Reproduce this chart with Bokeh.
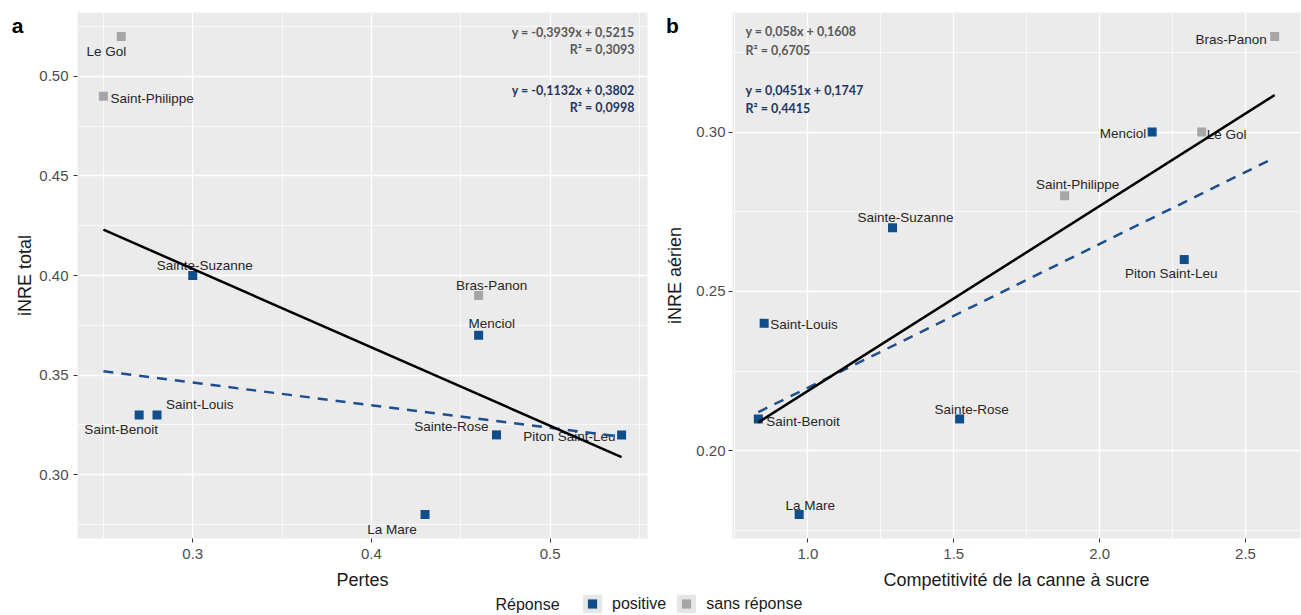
import numpy as np
from bokeh.plotting import figure
from bokeh.models import (ColumnDataSource, Range1d, FixedTicker, NumeralTickFormatter,
                          Label, Legend, LegendItem)
from bokeh.layouts import column, row
from bokeh.embed import file_html
from bokeh.resources import INLINE
from bokeh.core.properties import value, field

# ---------------- data ----------------
sites = ["Le Gol", "Saint-Philippe", "Sainte-Suzanne", "Bras-Panon", "Menciol",
         "Saint-Benoit", "Saint-Louis", "Sainte-Rose", "Piton Saint-Leu", "La Mare"]
reponse = ["sans réponse", "sans réponse", "positive", "sans réponse", "positive",
           "positive", "positive", "positive", "positive", "positive"]
pertes = [0.26, 0.25, 0.30, 0.46, 0.46, 0.27, 0.28, 0.47, 0.54, 0.43]
inre_total = [0.52, 0.49, 0.40, 0.39, 0.37, 0.33, 0.33, 0.32, 0.32, 0.28]
competitivite = [2.35, 1.88, 1.29, 2.60, 2.18, 0.83, 0.85, 1.52, 2.29, 0.97]
inre_aerien = [0.30, 0.28, 0.27, 0.33, 0.30, 0.21, 0.24, 0.21, 0.26, 0.18]

reponse_levels = ["positive", "sans réponse"]
legend_title = "Réponse"

# printed regression results: [slope, intercept] (all sites / positive only)
coef_a_all = [-0.3939, 0.5215]
coef_a_pos = [-0.1132, 0.3802]
coef_b_all = [0.058, 0.1608]
coef_b_pos = [0.0451, 0.1747]
eq_a_all = ["y = -0,3939x + 0,5215", "R² = 0,3093"]
eq_a_pos = ["y = -0,1132x + 0,3802", "R² = 0,0998"]
eq_b_all = ["y = 0,058x + 0,1608", "R² = 0,6705"]
eq_b_pos = ["y = 0,0451x + 0,1747", "R² = 0,4415"]

xticks_a = [0.3, 0.4, 0.5]
yticks_a = [0.30, 0.35, 0.40, 0.45, 0.50]
xticks_b = [1.0, 1.5, 2.0, 2.5]
yticks_b = [0.20, 0.25, 0.30]

x_title_a, y_title_a = "Pertes", "iNRE total"
x_title_b, y_title_b = "Competitivité de la canne à sucre", "iNRE aérien"

# ---------------- styles ----------------
COLORS = {"positive": "#104E8B", "sans réponse": "#A6A6A6"}
EQ_COLORS = ["#595959", "#1F3864"]
DASH_COLOR = "#1F4E8C"
FONT = "Liberation Sans"
EQ_FONT = "Lato"

# label placement per site: (align, dx px, dy px downward)
LAB_A = {"Le Gol": ("center", -15, 15), "Saint-Philippe": ("left", 7, 2),
         "Sainte-Suzanne": ("center", 12, -10), "Bras-Panon": ("center", 13, -10),
         "Menciol": ("center", 13, -12), "Saint-Benoit": ("center", -18, 15),
         "Saint-Louis": ("left", 9, -10), "Sainte-Rose": ("right", -8, -8),
         "Piton Saint-Leu": ("right", -6, 2), "La Mare": ("center", -33, 15)}
LAB_B = {"Le Gol": ("left", 5, 2), "Saint-Philippe": ("center", 13, -11),
         "Sainte-Suzanne": ("center", 13, -10), "Bras-Panon": ("right", -8, 3),
         "Menciol": ("right", -6, 1), "Saint-Benoit": ("left", 8, 3),
         "Saint-Louis": ("left", 6, 1), "Sainte-Rose": ("center", 12, -9),
         "Piton Saint-Leu": ("center", -13, 14), "La Mare": ("center", 11, -9)}

FRAME_H = 526
BORDER_TOP = 12
BORDER_BOTTOM = 54
LEGEND_H = 23


def padded(vals, frac=0.05):
    lo, hi = min(vals), max(vals)
    pad = (hi - lo) * frac
    return Range1d(lo - pad, hi + pad)


def minors(ticks):
    step = ticks[1] - ticks[0]
    return list(np.arange(ticks[0] - step / 2, ticks[-1] + step, step))


def panel(xv, yv, xticks, yticks, xfmt, yfmt, xtitle, ytitle, coef_all, coef_pos,
          eq_all, eq_pos, labstyle, tag, frame_w, b_left, b_right, eq_align, eq_x, eq_ys,
          ytitle_x, tag_x, y_standoff):
    p = figure(frame_width=frame_w, frame_height=FRAME_H, x_range=padded(xv), y_range=padded(yv),
               toolbar_location=None, output_backend="svg",
               min_border_left=b_left, min_border_right=b_right, min_border_top=BORDER_TOP,
               min_border_bottom=BORDER_BOTTOM)
    p.background_fill_color = "#EBEBEB"
    p.border_fill_color = "white"
    p.outline_line_color = None

    p.xaxis.ticker = FixedTicker(ticks=xticks, minor_ticks=minors(xticks))
    p.yaxis.ticker = FixedTicker(ticks=yticks, minor_ticks=minors(yticks))
    p.xaxis.formatter = NumeralTickFormatter(format=xfmt)
    p.yaxis.formatter = NumeralTickFormatter(format=yfmt)
    for g in (p.xgrid, p.ygrid):
        g.grid_line_color = "white"
        g.grid_line_width = 1.3
        g.minor_grid_line_color = "white"
        g.minor_grid_line_width = 0.7
    for ax in (p.xaxis, p.yaxis):
        ax.axis_line_color = None
        ax.major_tick_line_color = "#333333"
        ax.major_tick_out = 4
        ax.major_tick_in = 0
        ax.minor_tick_line_color = None
        ax.major_label_text_font = FONT
        ax.major_label_text_font_size = "15px"
        ax.major_label_text_color = "#4D4D4D"
        ax.axis_label_text_font = FONT
        ax.axis_label_text_font_size = "18px"
        ax.axis_label_text_font_style = "normal"
        ax.axis_label_text_color = "#1A1A1A"
    p.xaxis.major_label_standoff = 6
    p.yaxis.major_label_standoff = y_standoff
    p.xaxis.axis_label_standoff = 8
    p.xaxis.axis_label = xtitle

    # y title and panel tag as side-panel labels (not clipped to the frame)
    p.add_layout(Label(x=ytitle_x, y=BORDER_TOP + FRAME_H / 2, x_units="canvas",
                       y_units="canvas", text=ytitle, angle=np.pi / 2,
                       text_align="center", text_baseline="middle", text_font=FONT,
                       text_font_size="18px", text_line_height=1.0,
                       text_color="#1A1A1A"), "left")
    p.add_layout(Label(x=tag_x, y=25, x_units="canvas", y_units="canvas", text=tag,
                       text_align="center", text_baseline="middle", text_font=FONT,
                       text_font_style="bold", text_font_size="21px", text_color="black"),
                 "left")

    src = ColumnDataSource(dict(
        x=xv, y=yv, site=sites, rep=reponse,
        color=[COLORS[r] for r in reponse],
        align=[labstyle[s][0] for s in sites],
        dx=[labstyle[s][1] for s in sites],
        dy=[labstyle[s][2] for s in sites]))
    p.scatter("x", "y", source=src, marker="square", size=9, fill_color="color",
              line_color=None)
    p.text("x", "y", text="site", source=src, x_offset="dx", y_offset="dy",
           text_align=field("align"), text_baseline="middle",
           text_font=value(FONT), text_font_size="13.5px", text_color="#262626")

    xs = np.array([min(xv), max(xv)])
    p.line(xs, coef_pos[0] * xs + coef_pos[1], line_color=DASH_COLOR, line_width=2.5,
           line_dash="10 8")
    p.line(xs, coef_all[0] * xs + coef_all[1], line_color="black", line_width=2.5)

    texts = [eq_all[0], eq_all[1], eq_pos[0], eq_pos[1]]
    cols = [EQ_COLORS[0], EQ_COLORS[0], EQ_COLORS[1], EQ_COLORS[1]]
    for t, c, yy in zip(texts, cols, eq_ys):
        p.add_layout(Label(x=eq_x, y=yy, x_units="screen", y_units="screen", text=t,
                           text_align=eq_align, text_baseline="middle",
                           text_font=EQ_FONT, text_font_style="bold",
                           text_font_size="12.5px", text_color=c))
    return p


pa = panel(pertes, inre_total, xticks_a, yticks_a, "0.0", "0.00", x_title_a, y_title_a,
           coef_a_all, coef_a_pos, eq_a_all, eq_a_pos, LAB_A, "a",
           570, 77, 13, "right", 557, [506, 489, 448, 431], 24, 17, 5)
pb = panel(competitivite, inre_aerien, xticks_b, yticks_b, "0.0", "0.00", x_title_b, y_title_b,
           coef_b_all, coef_b_pos, eq_b_all, eq_b_pos, LAB_B, "b",
           568, 72, 1, "left", 13, [507, 488, 448, 430], 14, 12, 3)

# ---------------- legend strip ----------------
pl = figure(frame_width=1301, frame_height=LEGEND_H, x_range=Range1d(0, 1), y_range=Range1d(0, 1),
            x_axis_type=None, y_axis_type=None, toolbar_location=None, output_backend="svg",
            min_border=0)
pl.outline_line_color = None
pl.background_fill_color = "white"
items = []
for lev in reponse_levels:
    # legend-only renderers: their single point lies outside the visible range
    bg = pl.rect(x=[-5], y=[-5], width=0.1, height=0.1, fill_color="#E6E6E6", line_color=None)
    mk = pl.scatter(x=[-5], y=[-5], marker="square", size=9, fill_color=COLORS[lev],
                    line_color=None)
    items.append(LegendItem(label=lev, renderers=[bg, mk]))
leg = Legend(items=items, orientation="horizontal", location=(580, 0),
             margin=0, padding=0, spacing=8, label_standoff=8,
             glyph_width=24, glyph_height=23, label_height=20,
             label_text_font=FONT, label_text_font_size="16px", label_text_color="#1A1A1A",
             border_line_color=None, background_fill_alpha=0)
pl.add_layout(leg)
pl.add_layout(Label(x=495, y=LEGEND_H / 2, x_units="screen", y_units="screen", text=legend_title,
                    text_align="left", text_baseline="middle", text_font=FONT,
                    text_font_size="16px", text_color="#1A1A1A"))

layout = column(row(pa, pb), pl)
open("out.html", "w").write(file_html(layout, INLINE))
